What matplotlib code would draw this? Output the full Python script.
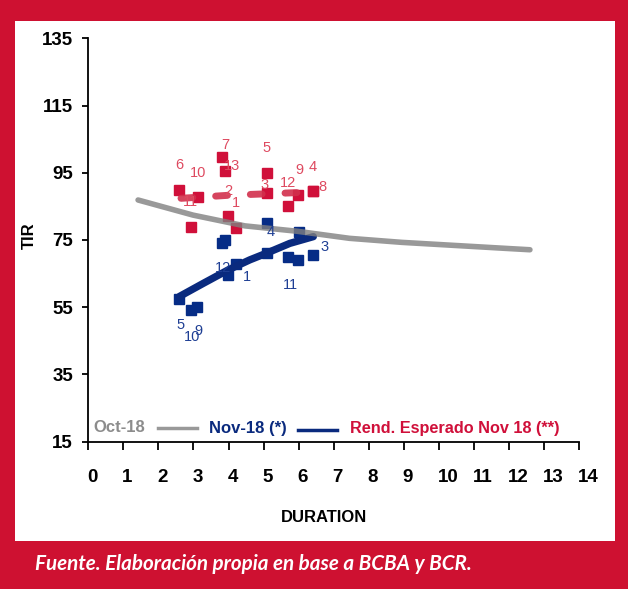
import matplotlib.pyplot as plt
from matplotlib.patches import Rectangle
from matplotlib import transforms

W, H = 628, 589
RED = "#CE1131"
NAVY = "#0A2A7E"
GRAY = "#808080"

# Rend. Esperado Nov 18 (**)
dur_rend = [2.60, 3.12, 2.92, 3.81, 3.90, 3.99, 4.21, 5.09, 5.09, 5.71, 5.99, 6.40, 6.40]
tir_rend = [89.9, 87.7, 79.0, 99.8, 95.4, 82.0, 78.5, 94.9, 89.1, 85.1, 88.4, 89.6, 89.6]
lbl_rend = ["6", "10", "11", "7", "13", "2", "1", "5", "3", "12", "9", "4", "8"]
trend_rend_x = [2.645, 4.0, 5.97]
trend_rend_y = [87.4, 88.3, 89.1]

# Nov-18 (*)
dur_nov = [2.60, 2.92, 3.11, 3.81, 3.90, 3.99, 4.21, 5.09, 5.09, 5.71, 5.99, 6.02, 6.40]
tir_nov = [57.4, 54.2, 55.0, 74.2, 75.0, 64.6, 67.8, 71.0, 80.2, 69.9, 69.1, 77.3, 70.6]
lbl_nov = ["5", "10", "9", "12", "", "1", "", "", "4", "11", "", "", "3"]
trend_nov_x = [2.60, 3.28, 3.99, 4.61, 5.09, 5.75, 6.42]
trend_nov_y = [58.2, 62.1, 66.1, 69.1, 71.1, 74.0, 76.0]

# Oct-18
trend_oct_x = [1.42, 2.99, 4.47, 5.96, 7.45, 8.94, 10.43, 11.92, 12.6]
trend_oct_y = [86.9, 82.4, 79.2, 77.6, 75.5, 74.3, 73.4, 72.5, 72.1]

xticks = list(range(0, 15))
yticks = [15, 35, 55, 75, 95, 115, 135]

# desplazamiento de etiquetas en pixeles (dx, dy hacia abajo)
off_rend = [(0, -25), (0, -24), (0, -25), (3, -12), (7, -5), (0, -25), (0, -25),
            (0, -25), (-2, -8), (0, -23), (1, -25), (0, -24), (10, -4)]
off_nov = [(1, 26), (1, 27), (1, 24), (1, 25), (0, 0), (19, 2), (0, 0), (0, 0),
           (4, 9), (2, 28), (0, 0), (0, 0), (12, -8)]


def fx(px):
    return px / W


def fy(py):
    return 1 - py / H


fig = plt.figure(figsize=(W / 100, H / 100), dpi=100)
fig.patch.set_facecolor(RED)
fig.patches.append(Rectangle((fx(15), fy(541)), fx(615) - fx(15), fy(21) - fy(541),
                             transform=fig.transFigure, facecolor="white", edgecolor="none", zorder=-5))

ax = fig.add_axes([fx(88.3), fy(441.7), fx(579) - fx(88.3), fy(38.3) - fy(441.7)])
ax.set_zorder(2)
ax.set_facecolor("none")
ax.set_xlim(0, 14)
ax.set_ylim(15, 135)

sans = "Liberation Sans"

ax.plot(dur_rend, tir_rend, "s", color="#D0103A", ms=6.8, zorder=3)
ax.plot(trend_rend_x, trend_rend_y, color="#D2304C", lw=5, alpha=0.9,
        linestyle=(0, (1.7, 3.3)), dash_capstyle="round", zorder=4)
ax.plot(dur_nov, tir_nov, "s", color="#062C86", ms=7.2, zorder=3)
ax.plot(trend_nov_x, trend_nov_y, color=NAVY, lw=5.3, solid_capstyle="round", zorder=4)
ax.plot(trend_oct_x, trend_oct_y, color=GRAY, lw=4, alpha=0.8, solid_capstyle="round", zorder=5)

for x, y, t, (dx, dy) in zip(dur_rend, tir_rend, lbl_rend, off_rend):
    if t:
        ax.annotate(t, (x, y), xytext=(dx, -dy), textcoords="offset pixels", ha="center", va="center",
                    color="#DE4A60", fontsize=10.5, family=sans, zorder=6)
for x, y, t, (dx, dy) in zip(dur_nov, tir_nov, lbl_nov, off_nov):
    if t:
        ax.annotate(t, (x, y), xytext=(dx, -dy), textcoords="offset pixels", ha="center", va="center",
                    color="#1F3F94", fontsize=10.5, family=sans, zorder=6)

for s in ["top", "right"]:
    ax.spines[s].set_visible(False)
for s in ["left", "bottom"]:
    ax.spines[s].set_linewidth(1.3)
ax.set_xticks(xticks)
ax.set_yticks(yticks)
ax.tick_params(axis="x", direction="out", length=6, width=1.3, pad=14)
ax.tick_params(axis="y", direction="out", length=4, width=1.3, pad=7)
ax.set_xticklabels([str(v) for v in xticks], family=sans, fontsize=13.5, fontweight="bold", ha="left")
ax.set_yticklabels([str(v) for v in yticks], family=sans, fontsize=13.5, fontweight="bold")
shift = transforms.ScaledTranslation(-1 / 100, 0, fig.dpi_scale_trans)
for lab in ax.get_xticklabels():
    lab.set_transform(lab.get_transform() + shift)

fig.text(fx(29), fy(236), "TIR", rotation=90, ha="center", va="center",
         fontsize=12, fontweight="bold", family=sans)
fig.text(fx(324), fy(517), "DURATION", ha="center", va="center",
         fontsize=12, fontweight="bold", family=sans)

# leyenda armada a mano como en el original
fig.text(fx(93), fy(428), "Oct-18", ha="left", va="center", color="#8C8C8C",
         fontsize=12, fontweight="bold", family=sans)
fig.add_artist(plt.Line2D([fx(158), fx(197)], [fy(428), fy(428)], color="#999999", lw=2.5))
fig.text(fx(209), fy(428), "Nov-18 (*)", ha="left", va="center", color=NAVY,
         fontsize=12, fontweight="bold", family=sans)
fig.add_artist(plt.Line2D([fx(298), fx(337)], [fy(430), fy(430)], color=NAVY, lw=2.5))
fig.text(fx(350), fy(428), "Rend. Esperado Nov 18 (**)", ha="left", va="center", color="#D0103A",
         fontsize=11.7, fontweight="bold", family=sans)

fig.text(fx(35), fy(570), "Fuente. Elaboración propia en base a BCBA y BCR.", ha="left", va="baseline",
         color="white", fontsize=14.9, fontweight="bold", fontstyle="italic", family="Lato")

fig.savefig("out.png", dpi=100, facecolor=fig.get_facecolor())
